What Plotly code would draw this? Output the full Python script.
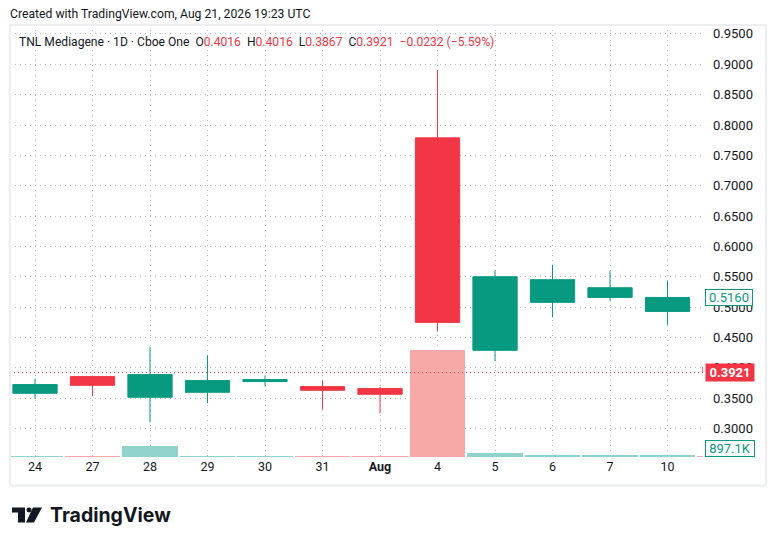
import plotly.graph_objects as go

# daily bars, last one (Aug 11) sits mostly past the right edge
day_labels = ["24", "27", "28", "29", "30", "31", "<b>Aug</b>", "4", "5", "6", "7", "10", "11"]
open_ = [0.3581, 0.3856, 0.3516, 0.3598, 0.3774, 0.3692, 0.3659, 0.7788, 0.4289, 0.5079, 0.5160, 0.4930, 0.4016]
high = [0.3823, 0.3860, 0.4350, 0.4207, 0.3873, 0.3790, 0.3687, 0.8906, 0.5600, 0.5698, 0.5600, 0.5435, 0.4016]
low = [0.3494, 0.3532, 0.3104, 0.3417, 0.3692, 0.3313, 0.3252, 0.4601, 0.4108, 0.4832, 0.5110, 0.4711, 0.3867]
close = [0.3725, 0.3713, 0.3889, 0.3790, 0.3807, 0.3631, 0.3565, 0.4749, 0.5501, 0.5452, 0.5320, 0.5160, 0.3921]
volume = [0.60e6, 0.50e6, 10.2e6, 0.70e6, 0.55e6, 0.45e6, 0.50e6, 95.0e6, 3.6e6, 1.9e6, 0.95e6, 0.8971e6, 0.40e6]

last_price = 0.3921
last_bar_close = 0.5160
last_volume_label = "897.1K"

GREEN = "#089981"
RED = "#f23645"
TXT = "#131722"
W, H = 776, 546
L, R, T, B = 10, 73, 25, 88.5
PW, PH = W - L - R, H - T - B


def px(x, y):
    # pixel -> paper coords
    return (x - L) / PW, (H - B - y) / PH


xs = list(range(len(open_)))
vol_colors = ["#92d2cc" if c >= o else "#f7a9a7" for o, c in zip(open_, close)]

fig = go.Figure()
fig.add_trace(go.Bar(x=xs, y=volume, marker_color=vol_colors, marker_line_width=0,
                     width=0.97, yaxis="y2", hoverinfo="skip"))
fig.add_trace(go.Candlestick(x=xs, open=open_, high=high, low=low, close=close,
                             increasing=dict(line=dict(color=GREEN, width=1), fillcolor=GREEN),
                             decreasing=dict(line=dict(color=RED, width=1), fillcolor=RED),
                             whiskerwidth=0))

font = "Roboto, 'Liberation Sans', sans-serif"
grid = dict(showgrid=True, gridcolor="#b8bbc3", griddash="1px,4px", gridwidth=1)
fig.update_layout(
    width=W, height=H, margin=dict(l=L, r=R, t=T, b=B),
    paper_bgcolor="white", plot_bgcolor="white", showlegend=False,
    boxgap=0.23, boxgroupgap=0, bargap=0,
    font=dict(family=font, size=12, color=TXT),
    xaxis=dict(range=[-0.435, 11.617], tickvals=xs[:12], ticktext=day_labels[:12],
               rangeslider=dict(visible=False), zeroline=False, showline=False,
               ticks="", tickfont=dict(size=12.5, color=TXT), **grid),
    yaxis=dict(side="right", range=[0.2532, 0.9647], dtick=0.05, tick0=0.3,
               tickformat=".4f", zeroline=False, ticks="", ticklabelstandoff=9,
               tickfont=dict(size=13, color=TXT), **grid),
    yaxis2=dict(overlaying="y", range=[0, 384e6], visible=False),
)

# last price line
fig.add_shape(type="line", xref="paper", x0=0, x1=1, yref="y", y0=last_price, y1=last_price,
              line=dict(color=RED, width=1, dash="1px,3px"))

# pane frame
fx0, fy0 = px(10, 25)
fx1, fy1 = px(766, 486)
fig.add_shape(type="rect", xref="paper", yref="paper", x0=fx0, x1=fx1, y0=fy1, y1=fy0,
              line=dict(color="#eceef2", width=2))

# price labels on the scale
ax, _ = px(705, 0)
fig.add_annotation(xref="paper", x=ax, yref="y", y=last_price, xanchor="left",
                   text="<b>%.4f</b>" % last_price, showarrow=False, width=44, height=13,
                   font=dict(color="white", size=13), bgcolor=RED, borderpad=2)
fig.add_annotation(xref="paper", x=ax, yref="y", y=last_bar_close, xanchor="left",
                   text="%.4f" % last_bar_close, showarrow=False, width=44, height=13,
                   font=dict(color=GREEN, size=13), bgcolor="white",
                   bordercolor=GREEN, borderwidth=1, borderpad=1)
_, vy = px(0, 458)
fig.add_annotation(xref="paper", x=ax, yref="paper", y=vy, xanchor="left", yanchor="bottom",
                   text=last_volume_label, showarrow=False, width=46, height=13,
                   font=dict(color=GREEN, size=13), bgcolor="white",
                   bordercolor=GREEN, borderwidth=1, borderpad=1)

# header texts
hx, hy = px(8, 14)
fig.add_annotation(xref="paper", x=hx, yref="paper", y=hy, xanchor="left", yanchor="middle",
                   text="Created with TradingView.com, Aug 21, 2026 19:23 UTC",
                   showarrow=False, font=dict(size=12.2, color=TXT))


def red(s):
    return "<span style='color:%s'>%s</span>" % (RED, s)


legend = ("TNL Mediagene · 1D · Cboe One  O" + red("0.4016") + "  H" + red("0.4016")
          + "  L" + red("0.3867") + "  C" + red("0.3921") + "  " + red("−0.0232 (−5.59%)"))
lx, ly = px(17, 42)
fig.add_annotation(xref="paper", x=lx, yref="paper", y=ly, xanchor="left", yanchor="middle",
                   text=legend, showarrow=False, font=dict(size=12.1, color=TXT))

# logo
def poly(points, color):
    p = [px(x, y) for x, y in points]
    path = "M " + " L ".join("%f,%f" % q for q in p) + " Z"
    fig.add_shape(type="path", xref="paper", yref="paper", path=path,
                  fillcolor=color, line=dict(width=0))


poly([(12, 508), (25, 508), (25, 523), (18, 523), (18, 513), (12, 513)], "#131722")
cx0, cy0 = px(26.5, 508)
cx1, cy1 = px(31.5, 513)
fig.add_shape(type="circle", xref="paper", yref="paper", x0=cx0, x1=cx1, y0=cy1, y1=cy0,
              fillcolor="#131722", line=dict(width=0))
poly([(33, 508), (42, 508), (34, 523), (26, 523)], "#131722")
tx, ty = px(48, 515.5)
fig.add_annotation(xref="paper", x=tx, yref="paper", y=ty, xanchor="left", yanchor="middle",
                   text="<b>TradingView</b>", showarrow=False,
                   font=dict(family="Inter, 'Noto Sans', sans-serif", size=19.5, color="#131722"))

fig.write_html("out.html", config={"displayModeBar": False},
               post_script="document.body.style.margin='0';")
